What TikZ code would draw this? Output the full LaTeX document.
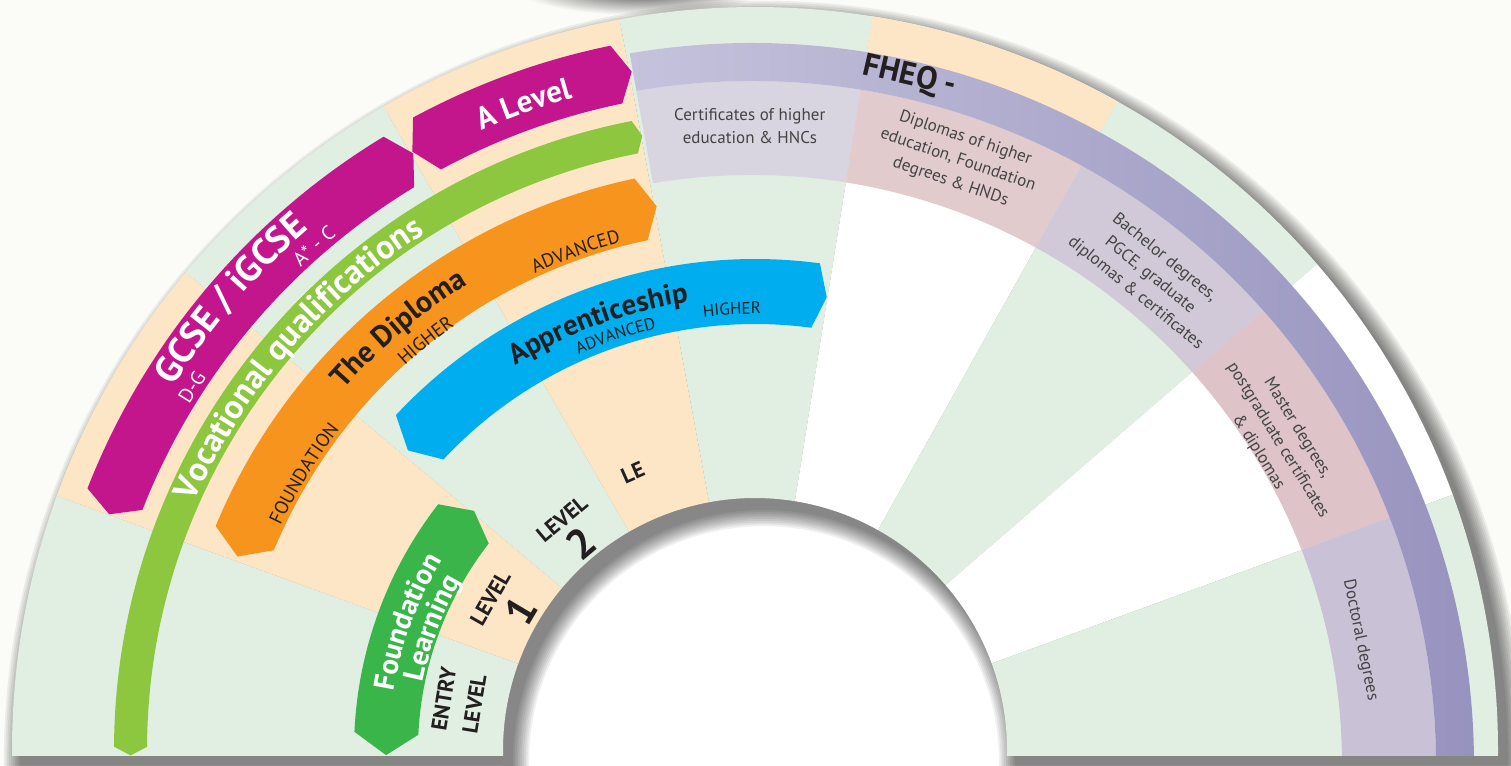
\documentclass[tikz,border=0pt]{standalone}
\usepackage{fontspec}
\setmainfont{PT Sans}
\usetikzlibrary{decorations.text}
\definecolor{bgG}{HTML}{E1EFE3}
\definecolor{bgP}{HTML}{FDE6C6}
\definecolor{cMag}{HTML}{C4168C}
\definecolor{cVoc}{HTML}{8DC63F}
\definecolor{cOra}{HTML}{F7941D}
\definecolor{cBlu}{HTML}{00AEEF}
\definecolor{cFnd}{HTML}{39B54A}
\definecolor{cCert}{HTML}{D8D4E0}
\definecolor{cDipl}{HTML}{E2CBCD}
\definecolor{cBach}{HTML}{D1C9D8}
\definecolor{cMast}{HTML}{DEC3C8}
\definecolor{cDoct}{HTML}{C9C1D5}
\definecolor{cBandL}{HTML}{C8C6DE}
\definecolor{cBandR}{HTML}{9692BE}
\definecolor{cInk}{HTML}{231F20}
\definecolor{cDesc}{HTML}{444444}
\definecolor{cPaper}{HTML}{FBFBF7}
\definecolor{cBlob}{HTML}{3A3A3A}
% annular sector: colour, angle a, angle b, r1, r2
\newcommand\mysect[5]{\fill[#1] (#2:#4) arc[start angle=#2,end angle=#3,radius=#4] -- (#3:#5) arc[start angle=#3,end angle=#2,radius=#5] -- cycle;}
% arc band with pointed ends: colour, r1, r2, corner a1, tip t1, corner a2, tip t2
\newcommand\myband[7]{\fill[#1] (#4:#3) arc[start angle=#4,end angle=#6,radius=#3] -- ({#7}:{(#2+#3)/2}) -- (#6:#2) arc[start angle=#6,end angle=#4,radius=#2] -- ({#5}:{(#2+#3)/2}) -- cycle;}
% FHEQ block: colour, angle a, angle b
\newcommand\myblock[3]{\begin{scope}\clip (0,0) -- (#2:1100) -- (#3:1100) -- cycle;\fill[#1,even odd rule] (-3,-15) circle[radius=684] (-3,-15) circle[radius=590];\end{scope}}
% text along arc: radius, centre angle, format, text, colour
\newcommand\myarctext[5]{\pgfmathsetmacro\mysa{#2+32}\pgfmathsetmacro\myea{#2-32}\path[decorate,decoration={text along path,text align=center,text color=#5,text={|#3|#4}}] (\mysa:#1) arc[start angle=\mysa,end angle=\myea,radius=#1];}
\begin{document}
\begin{tikzpicture}[x=1pt,y=1pt,
  lvl/.style={font=\bfseries\fontsize{22}{31}\selectfont,text=cInk,align=center,inner sep=0pt},
  num/.style={font=\bfseries\fontsize{42}{42}\selectfont,text=cInk,inner sep=0pt},
  desc/.style={font=\fontsize{17}{23}\selectfont,text=cDesc,align=center,inner sep=0pt},
  title/.style={font=\bfseries\fontsize{32}{32}\selectfont,text=cInk,inner sep=0pt}]
\useasboundingbox (0,0) rectangle (1511,765);
\fill[cPaper] (0,0) rectangle (1511,765);
\fill[white] (755,15) circle[radius=252];
% blurred shadow of an object at the top
\begin{scope}
\clip (0,0) rectangle (1511,765);
\shade[inner color=cBlob,outer color=cPaper] (640,778) ellipse (125 and 28);
\end{scope}
% drop shadow of the ring
\begin{scope}
\clip (0,0) rectangle (1511,765);
\foreach \k in {0,...,9}{\fill[black,opacity=0.06,even odd rule] (764,4) circle[radius={744+1.8*\k}] (764,4) circle[radius={251-1.8*\k}];}
\end{scope}
% ring
\begin{scope}
\clip (0,10) rectangle (1511,765);
\begin{scope}[shift={(755,15)}]
\mysect{bgG}{160}{184}{252}{743}
\mysect{bgP}{140}{160}{252}{743}
\mysect{bgG}{120}{140}{252}{743}
\mysect{bgP}{100.5}{120}{252}{743}
\mysect{bgG}{80.9}{100.5}{252}{743}
\mysect{white}{60.8}{80.9}{252}{743}
\mysect{bgP}{60.8}{80.9}{690}{743}
\mysect{bgG}{40.85}{60.8}{252}{743}
\mysect{white}{20.1}{40.85}{252}{743}
\mysect{bgG}{-4}{20.1}{252}{743}
% FHEQ band
\myblock{cCert}{100.2}{80.9}
\myblock{cDipl}{80.9}{60.8}
\myblock{cBach}{60.8}{40.85}
\myblock{cMast}{40.85}{20.1}
\myblock{cDoct}{20.1}{-4}
\begin{scope}
 \clip (0,0) -- (100.2:1100) -- (60:1300) -- (20:1300) -- (-4:1100) -- cycle;
 \begin{scope}[shift={(-3,-15)}]
  \shade[left color=cBandL,right color=cBandR] (105:722) arc[start angle=105,end angle=-5,radius=722] -- (-5:684) arc[start angle=-5,end angle=105,radius=684] -- cycle;
 \end{scope}
\end{scope}
% qualification bands
\myband{cMag}{658}{717}{158.6}{159.95}{121.2}{119.8}
\myband{cMag}{660}{719}{118.4}{119.8}{101.6}{100.3}
\myband{cVoc}{608}{641}{179.7}{180.5}{101.1}{100.4}
\myband{cOra}{521}{584}{157.45}{159.5}{101.9}{100.25}
\myband{cBlu}{426}{491}{137}{139.2}{82.4}{81}
\myband{cFnd}{337}{401}{177.4}{180.8}{142.2}{139.6}
% texts on the bands
\myarctext{686}{139.3}{\bfseries\fontsize{37}{37}\selectfont}{GCSE / iGCSE}{white}
\myarctext{663}{147.2}{\fontsize{20}{20}\selectfont}{D-G}{white}
\myarctext{663}{131.2}{\fontsize{20}{20}\selectfont}{A* - C}{white}
\myarctext{677}{109.7}{\bfseries\fontsize{31}{31}\selectfont}{A Level}{white}
\myarctext{613}{139.4}{\bfseries\fontsize{34}{34}\selectfont}{Vocational qualifications}{white}
\myarctext{547}{130.2}{\bfseries\fontsize{30}{30}\selectfont}{The Diploma}{cInk}
\myarctext{525}{148.5}{\fontsize{19}{19}\selectfont}{FOUNDATION}{cInk}
\myarctext{520}{128.8}{\fontsize{19}{19}\selectfont}{HIGHER}{cInk}
\myarctext{525}{109.8}{\fontsize{19}{19}\selectfont}{ADVANCED}{cInk}
\myarctext{453}{110.2}{\bfseries\fontsize{29}{29}\selectfont}{Apprenticeship}{cInk}
\myarctext{433}{108.6}{\fontsize{17}{17}\selectfont}{ADVANCED}{cInk}
\myarctext{436}{93}{\fontsize{17}{17}\selectfont}{HIGHER}{cInk}
\myarctext{366}{159.7}{\bfseries\fontsize{29}{29}\selectfont}{Foundation}{white}
\myarctext{339}{159.3}{\bfseries\fontsize{29}{29}\selectfont}{Learning}{white}
% level labels
\node[lvl,rotate=80.7] (entry) at (170.7:300) {ENTRY\\LEVEL};
\node[lvl,rotate=60.2] (lv1) at (150.2:305) {LEVEL};
\node[num,rotate=59.3] (n1) at (149.3:273) {1};
\node[lvl,rotate=39.9] (lv2) at (129.9:301) {LEVEL};
\node[num,rotate=40.2] (n2) at (130.2:270) {2};
\node[lvl,rotate=23.8] (lv3) at (113.8:303) {LE};
% FHEQ labels
\begin{scope}[shift={(-3,-15)}]
\node[title,rotate=-12.9] (fheq) at (77.1:706) {FHEQ -};
\node[desc,rotate=0.2] (cert) at (90.2:639) {Certificates of higher\\education \& HNCs};
\node[desc,rotate=-18.8] (dipl) at (71.2:639) {Diplomas of higher\\education, Foundation\\degrees \& HNDs};
\node[desc,rotate=-39.1] (bach) at (50.9:631) {Bachelor degrees,\\PGCE, graduate\\diplomas \& certificates};
\node[desc,rotate=-58.3] (mast) at (31.7:618) {Master degrees,\\postgraduate certificates\\\& diplomas};
\node[desc,rotate=-78.4] (doct) at (11.6:621) {Doctoral degrees};
\end{scope}
\end{scope}
\end{scope}
\end{tikzpicture}
\end{document}
